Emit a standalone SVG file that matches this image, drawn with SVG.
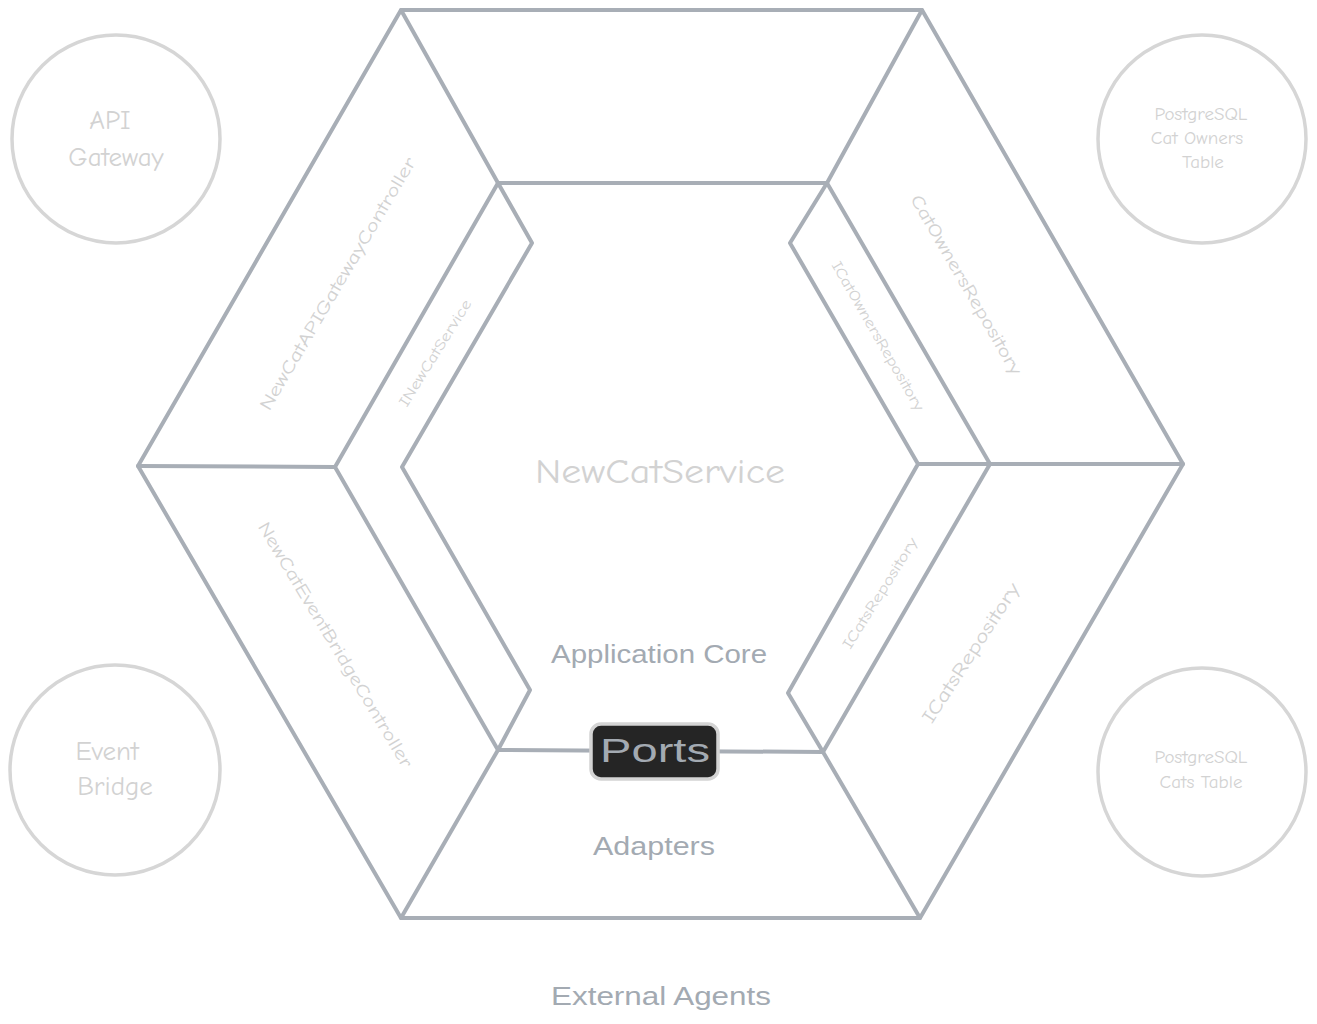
<svg xmlns="http://www.w3.org/2000/svg" width="1317" height="1024" viewBox="0 0 1317 1024">
<style>
.edge{fill:none;stroke:#a8aeb6;stroke-width:4;stroke-linejoin:round;stroke-linecap:round}
.circ{fill:none;stroke:#d6d6d6;stroke-width:3.5}
.lt{font-family:"Comic Neue","Liberation Sans",sans-serif;fill:#d2d2d2;text-anchor:middle;dominant-baseline:central}
.dk{font-family:"Liberation Sans",sans-serif;fill:#a3aab2;text-anchor:middle;dominant-baseline:central}
</style>
<rect width="1317" height="1024" fill="#ffffff"/>
<g id="hexagon-lines" class="edge">
  <polygon points="401,10 922,10 1183,464 920,918 401,918 138,466"/>
  <line x1="498" y1="183" x2="827" y2="183"/>
  <line x1="401" y1="10" x2="498" y2="183"/>
  <line x1="922" y1="10" x2="827" y2="183"/>
  <line x1="138" y1="466" x2="335" y2="467"/>
  <line x1="990" y1="464" x2="1183" y2="464"/>
  <line x1="498" y1="750" x2="401" y2="918"/>
  <line x1="823" y1="752" x2="920" y2="918"/>
  <line x1="498" y1="750" x2="823" y2="752"/>
  <polyline points="498,183 335,467 498,750"/>
  <polyline points="498,183 532,243 402,467 530,690 498,750"/>
  <polyline points="827,183 990,464 823,752"/>
  <polyline points="827,183 790,243 918,464 788,693 823,752"/>
  <line x1="918" y1="464" x2="990" y2="464"/>
</g>
<g id="api-gateway">
  <circle class="circ" cx="116" cy="139" r="104"/>
  <text class="lt" x="110" y="120" font-size="27">API</text>
  <text class="lt" x="116" y="157" font-size="27">Gateway</text>
</g>
<g id="event-bridge">
  <circle class="circ" cx="115" cy="770" r="105"/>
  <text class="lt" x="107" y="751" font-size="27">Event</text>
  <text class="lt" x="115" y="786" font-size="27">Bridge</text>
</g>
<g id="pg-cat-owners">
  <circle class="circ" cx="1202" cy="139" r="104"/>
  <text class="lt" x="1201" y="114" font-size="19">PostgreSQL</text>
  <text class="lt" x="1197" y="138" font-size="19">Cat Owners</text>
  <text class="lt" x="1203" y="162" font-size="19">Table</text>
</g>
<g id="pg-cats">
  <circle class="circ" cx="1202" cy="772" r="104"/>
  <text class="lt" x="1201" y="757" font-size="19">PostgreSQL</text>
  <text class="lt" x="1201" y="782" font-size="19">Cats Table</text>
</g>
<g id="new-cat-service">
  <text class="lt" x="660" y="472" font-size="34" textLength="250" lengthAdjust="spacingAndGlyphs">NewCatService</text>
</g>
<g id="labels">
  <text class="dk" x="659" y="654" font-size="25" textLength="216" lengthAdjust="spacingAndGlyphs">Application Core</text>
  <text class="dk" x="654" y="846" font-size="25" textLength="122" lengthAdjust="spacingAndGlyphs">Adapters</text>
  <text class="dk" x="661" y="996" font-size="25" textLength="220" lengthAdjust="spacingAndGlyphs">External Agents</text>
</g>
<g id="ports">
  <rect x="591" y="724" width="127" height="55" rx="10" fill="#252525" stroke="#d4d4d4" stroke-width="3.5"/>
  <text class="dk" x="655" y="750" font-size="34" textLength="110" lengthAdjust="spacingAndGlyphs">Ports</text>
</g>
<g id="new-cat-api-gateway-controller">
  <text class="lt" transform="translate(338,284) rotate(-59.5)" font-size="18" textLength="290" lengthAdjust="spacingAndGlyphs">NewCatAPIGatewayController</text>
</g>
<g id="inew-cat-service">
  <text class="lt" transform="translate(435,353) rotate(-58)" font-size="15" textLength="123" lengthAdjust="spacingAndGlyphs">INewCatService</text>
</g>
<g id="cat-owners-repository">
  <text class="lt" transform="translate(966,285) rotate(60)" font-size="18" textLength="205" lengthAdjust="spacingAndGlyphs">CatOwnersRepository</text>
</g>
<g id="icat-owners-repository">
  <text class="lt" transform="translate(878,336) rotate(60)" font-size="15" textLength="170" lengthAdjust="spacingAndGlyphs">ICatOwnersRepository</text>
</g>
<g id="icats-repository-port">
  <text class="lt" transform="translate(880,593) rotate(-58)" font-size="15" textLength="128" lengthAdjust="spacingAndGlyphs">ICatsRepository</text>
</g>
<g id="icats-repository-adapter">
  <text class="lt" transform="translate(971,653) rotate(-57)" font-size="19" textLength="163" lengthAdjust="spacingAndGlyphs">ICatsRepository</text>
</g>
<g id="new-cat-event-bridge-controller">
  <text class="lt" transform="translate(335,645) rotate(59)" font-size="18" textLength="283" lengthAdjust="spacingAndGlyphs">NewCatEventBridgeController</text>
</g>
</svg>
